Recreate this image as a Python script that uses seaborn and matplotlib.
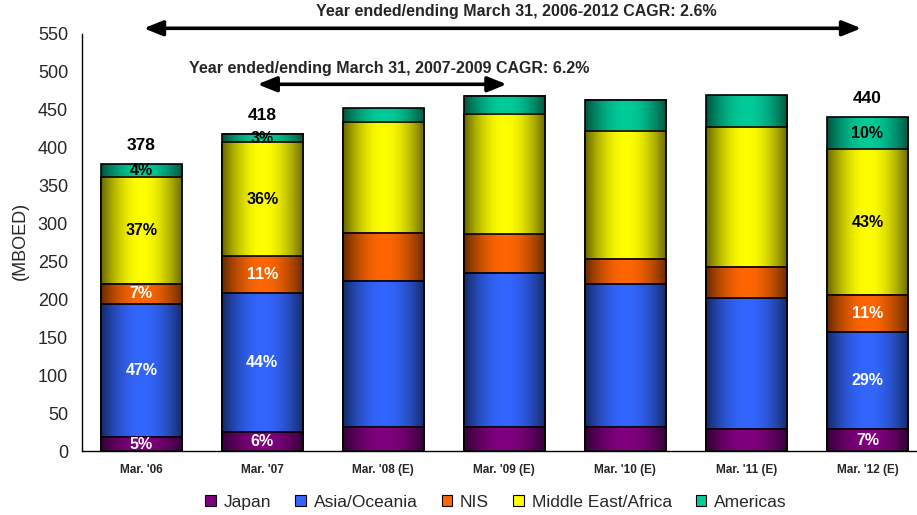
import numpy as np
import pandas as pd
import matplotlib
matplotlib.use("Agg")
import matplotlib.pyplot as plt
from matplotlib.patches import Patch
from matplotlib.colors import to_rgb
import seaborn as sns

# Data (MBOED)
years = ["Mar. '06", "Mar. '07", "Mar. '08 (E)", "Mar. '09 (E)",
         "Mar. '10 (E)", "Mar. '11 (E)", "Mar. '12 (E)"]
regions = ["Japan", "Asia/Oceania", "NIS", "Middle East/Africa", "Americas"]
japan = [19, 25, 32, 32, 32, 29, 29]
asia = [175, 183, 193, 203, 189, 173, 128]
nis = [27, 49, 63, 51, 33, 41, 49]
mideast = [141, 150, 146, 159, 168, 184, 192]
americas = [16, 11, 18, 23, 41, 42, 42]

# labelled bars: index -> (total label, share labels bottom to top)
total_labels = {0: "378", 1: "418", 6: "440"}
share_labels = {
    0: ["5%", "47%", "7%", "37%", "4%"],
    1: ["6%", "44%", "11%", "36%", "3%"],
    6: ["7%", "29%", "11%", "43%", "10%"],
}

colors = {"Japan": "#800080", "Asia/Oceania": "#3366FF", "NIS": "#FF6600",
          "Middle East/Africa": "#FFFF00", "Americas": "#00CC99"}
label_colors = {"Japan": "white", "Asia/Oceania": "white", "NIS": "white",
                "Middle East/Africa": "black", "Americas": "black"}

df = pd.DataFrame({"year": years, "Japan": japan, "Asia/Oceania": asia,
                   "NIS": nis, "Middle East/Africa": mideast, "Americas": americas})
cum = df[regions].cumsum(axis=1)

sns.set_theme(style="white")
plt.rcParams["font.family"] = ["Liberation Sans", "DejaVu Sans"]

fig, ax = plt.subplots(figsize=(9.17, 5.15), dpi=100)
fig.subplots_adjust(left=0.0894, right=1.0, bottom=0.1237, top=0.934)

# stacked bars: draw cumulative totals from the top layer down
order = list(reversed(regions))
for r in order:
    sns.barplot(x=df["year"], y=cum[r], color=colors[r], saturation=1,
                width=0.67, edgecolor="black", linewidth=1.2, ax=ax)

# horizontal gradient shading like the original (dark edges, bright center)
t = np.linspace(0, 1, 80)
shade = 0.40 + 0.60 * np.sin(np.pi * t) ** 0.9
n = len(years)
for k, r in enumerate(order):
    base = np.array(to_rgb(colors[r]))
    img = (shade[:, None] * base[None, :])[None, :, :]
    for j in range(n):
        p = ax.patches[k * n + j]
        x0, y0 = p.get_x(), p.get_y()
        x1, y1 = x0 + p.get_width(), y0 + p.get_height()
        ax.imshow(img, extent=(x0, x1, y0, y1), aspect="auto",
                  interpolation="bilinear", zorder=2 + 2 * k)
        p.set_facecolor("none")
        p.set_zorder(2.5 + 2 * k)

ax.set_xlim(-0.49, 6.41)
ax.set_ylim(0, 550)
ax.set_yticks(range(0, 551, 50))

# segment share labels and totals
for j, shares in share_labels.items():
    for i, r in enumerate(regions):
        top = cum[r][j]
        mid = top - df[r][j] / 2
        ax.text(j, mid, shares[i], ha="center", va="center", fontsize=11.5,
                fontweight="bold", color=label_colors[r], zorder=30)
for j, lab in total_labels.items():
    ax.text(j, cum["Americas"][j] + 25, lab, ha="center", va="center",
            fontsize=12.5, fontweight="bold", color="black", zorder=30)

# CAGR arrows
arrow = dict(arrowstyle="<|-|>,head_length=0.95,head_width=0.38", color="black",
             lw=2.6, shrinkA=0, shrinkB=0)
ax.annotate("", xy=(5.95, 557.5), xytext=(0.02, 557.5), arrowprops=arrow,
            annotation_clip=False)
ax.annotate("", xy=(3.02, 483.7), xytext=(0.96, 483.7), arrowprops=arrow,
            annotation_clip=False)
ax.text(3.1, 579, "Year ended/ending March 31, 2006-2012 CAGR: 2.6%", ha="center",
        va="center", fontsize=11.5, fontweight="bold", clip_on=False)
ax.text(2.05, 505, "Year ended/ending March 31, 2007-2009 CAGR: 6.2%", ha="center",
        va="center", fontsize=11.5, fontweight="bold")

# axes styling
sns.despine(ax=ax)
for s in ["left", "bottom"]:
    ax.spines[s].set_color("black")
    ax.spines[s].set_linewidth(1.0)
ax.set_xlabel("")
ax.set_ylabel("")
ax.tick_params(axis="y", direction="out", length=5, width=1, color="black",
               labelsize=13, pad=5)
ax.tick_params(axis="x", length=0, labelsize=8.5, pad=9)
for lab in ax.get_xticklabels():
    lab.set_fontweight("bold")
fig.text(20 / 917, 0.532, "(MBOED)", rotation=90, ha="center", va="center", fontsize=13)

handles = [Patch(facecolor=colors[r], edgecolor="black", linewidth=0.8, label=r)
           for r in regions]
fig.legend(handles=handles, loc="center", bbox_to_anchor=(0.541, 0.025), ncol=5,
           frameon=False, fontsize=12.5, handlelength=0.6, handleheight=0.6,
           handletextpad=0.45, columnspacing=1.4)

plt.savefig("out.png", dpi=100)
plt.close()
